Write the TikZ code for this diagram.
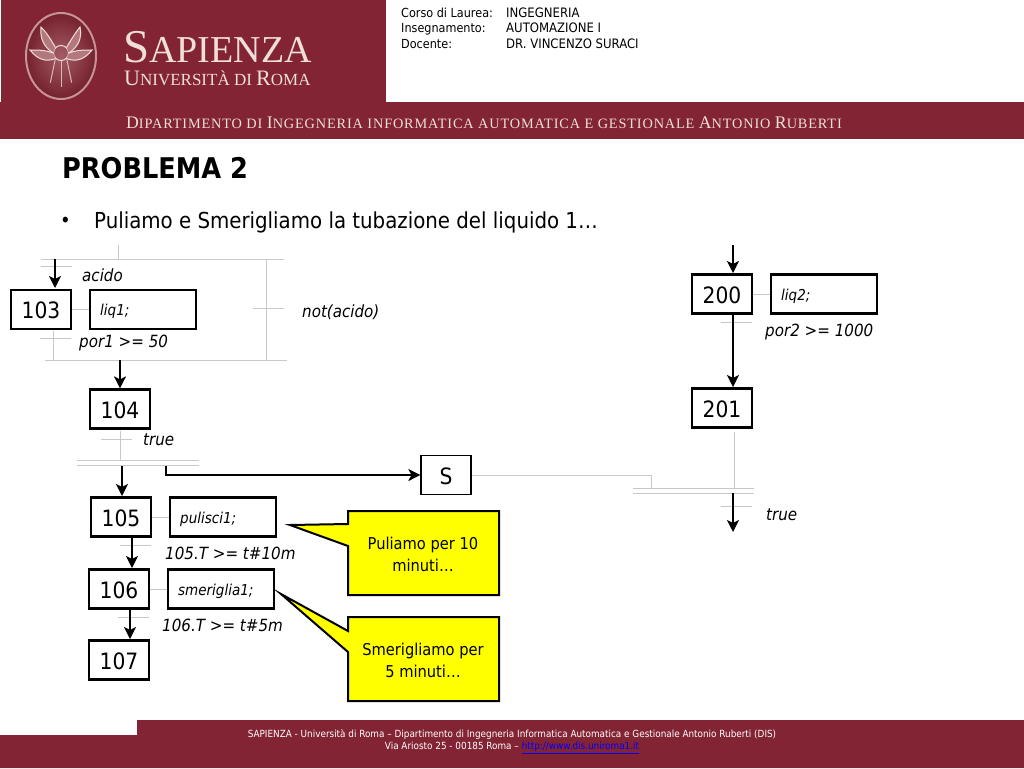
\documentclass[tikz,border=0pt]{standalone}
\usepackage{fontspec}
\setmainfont{DejaVu Sans Condensed}
\newfontfamily\logofont{Liberation Serif}
\usetikzlibrary{positioning,arrows.meta,shapes.geometric}
\definecolor{sapred}{RGB}{130,36,51}
\definecolor{sapcream}{RGB}{240,222,216}
\definecolor{gridgray}{RGB}{200,200,200}
\definecolor{noteyellow}{RGB}{255,255,0}
\newcommand{\LogoCaps}[2]{{\fontsize{#1}{#1}\selectfont #2}}
\tikzset{
	stepbox/.style={draw=black, line width=2.2pt, fill=white, minimum width=60pt, minimum height=39pt, inner sep=0pt, text height=18pt, text depth=0pt, font=\fontsize{22.5}{24}\selectfont},
	actionbox/.style={draw=black, line width=2.2pt, fill=white, minimum width=106pt, minimum height=39pt, text width=86pt, inner xsep=10pt, inner ysep=0pt, text height=14pt, text depth=2pt, align=left, font=\fontsize{15}{17}\selectfont\itshape},
	cond/.style={anchor=west, inner sep=0pt, font=\fontsize{16.8}{19}\selectfont\itshape},
	note/.style={draw=black, line width=2pt, fill=noteyellow, line join=miter},
	notetext/.style={align=center, inner sep=0pt, font=\fontsize{16.3}{22}\selectfont},
	thin line/.style={draw=gridgray, line width=1pt},
	flow/.style={draw=black, line width=1.6pt, -{Stealth[length=12pt,width=12pt,inset=3pt]}},
	info/.style={anchor=base west, inner sep=0pt, font=\fontsize{12.5}{14}\selectfont},
	infoval/.style={anchor=base west, inner sep=0pt, font=\fontsize{13}{14}\selectfont},
}
\begin{document}
\begin{tikzpicture}[x=1pt, y=-1pt]
	\useasboundingbox (0,0) rectangle (1024,768);

	% Header and footer bands
	\fill[sapred] (1,0) rectangle (386,102);
	\fill[sapred] (0,102) rectangle (1024,139);
	\fill[sapred] (137,720) -- (1024,720) -- (1024,768) -- (0,768) -- (0,735) -- (137,735) -- cycle;

	% Seal
	\node[ellipse, draw=sapcream!60!sapred, line width=2pt, inner color=sapred!70!sapcream, outer color=sapred!90!black, minimum width=70pt, minimum height=86pt, inner sep=0pt] (seal) at (61,56) {};
	\node[circle, draw=sapcream, line width=1pt, minimum size=15pt, inner sep=0pt] (sealcore) at (61,53) {};
	\draw[sapcream, line width=1pt, fill=sapcream!45!sapred] (sealcore.north west) .. controls (50,38) and (46,32) .. (41,27) .. controls (40,38) and (43,46) .. (sealcore.west);
	\draw[sapcream, line width=1pt, fill=sapcream!45!sapred] (sealcore.north east) .. controls (72,38) and (76,32) .. (80,27) .. controls (82,38) and (79,46) .. (sealcore.east);
	\draw[sapcream, line width=1pt, fill=sapcream!45!sapred] (sealcore.west) .. controls (46,50) and (38,50) .. (30,50) .. controls (38,60) and (46,62) .. (sealcore.south west);
	\draw[sapcream, line width=1pt, fill=sapcream!45!sapred] (sealcore.east) .. controls (76,50) and (84,50) .. (92,50) .. controls (84,60) and (76,62) .. (sealcore.south east);
	\draw[sapcream!80!sapred, line width=1pt] (sealcore.south) -- ++(0,26);
	\draw[sapcream!80!sapred, line width=1pt] (sealcore.south west) -- ++(-5,24);
	\draw[sapcream!80!sapred, line width=1pt] (sealcore.south east) -- ++(5,24);

	% Logo texts
	\node[anchor=base west, inner sep=0pt, text=sapcream] (sapienza) at (123,63) {\logofont\LogoCaps{47}{S}\LogoCaps{38}{APIENZA}};
	\node[anchor=base west, inner sep=0pt, text=sapcream] (roma) at (124,85) {\logofont\LogoCaps{22}{U}\LogoCaps{17}{NIVERSITÀ DI }\LogoCaps{22}{R}\LogoCaps{17}{OMA}};
	\node[anchor=base west, inner sep=0pt, text=sapcream] (dip) at (126,128) {\logofont\addfontfeature{LetterSpace=6}\LogoCaps{17.7}{D}\LogoCaps{14.3}{IPARTIMENTO DI }\LogoCaps{17.7}{I}\LogoCaps{14.3}{NGEGNERIA INFORMATICA AUTOMATICA E GESTIONALE }\LogoCaps{17.7}{A}\LogoCaps{14.3}{NTONIO }\LogoCaps{17.7}{R}\LogoCaps{14.3}{UBERTI}};

	% Course data
	\node[info] (corso) at (401,17.8) {Corso di Laurea:};
	\node[info] (insegn) at (401,33) {Insegnamento:};
	\node[info] (docente) at (401,48.8) {Docente:};
	\node[infoval] (corsoval) at (506,17.8) {INGEGNERIA};
	\node[infoval] (insegnval) at (506,33) {AUTOMAZIONE I};
	\node[infoval] (docenteval) at (506,48.8) {DR. VINCENZO SURACI};

	% Title
	\node[anchor=west, inner sep=0pt, font=\fontsize{28.5}{32}\selectfont\bfseries] (title) at (62,168) {PROBLEMA 2};
	\node[anchor=west, inner sep=0pt, font=\fontsize{20}{24}\selectfont] (bullet) at (60,222) {•};
	\node[anchor=west, inner sep=0pt, font=\fontsize{22}{26}\selectfont] (subtitle) at (94,222) {Puliamo e Smerigliamo la tubazione del liquido 1…};

	% Steps
	\node[stepbox] (s103) at (41,309.5) {103};
	\node[actionbox, right=17pt of s103] (liq1) {liq1;};
	\node[stepbox] (s104) at (120,409) {104};
	\node[stepbox] (s105) at (121,517) {105};
	\node[actionbox, right=17pt of s105] (pulisci) {pulisci1;};
	\node[stepbox] (s106) at (119,589) {106};
	\node[actionbox, right=17pt of s106] (smeriglia) {smeriglia1;};
	\node[stepbox] (s107) at (119,660) {107};
	\node[stepbox, line width=1.2pt, minimum width=50pt] (S) at (446,475) {S};
	\node[stepbox] (s200) at (722,294) {200};
	\node[actionbox, right=17pt of s200] (liq2) {liq2;};
	\node[stepbox] (s201) at (722,408) {201};

	% Free ends of the thin lines
	\coordinate (topa) at (41,259);
	\coordinate (topb) at (284,259);
	\coordinate (bota) at (45,360);
	\coordinate (botb) at (287,360);
	\coordinate (inlet) at (118,245);
	\coordinate (barone) at (77,460);
	\coordinate (baronee) at (199,460);
	\coordinate (bartwo) at (77,465);
	\coordinate (bartwoe) at (199,465);
	\coordinate (barthree) at (633,488);
	\coordinate (barthreee) at (754,488);
	\coordinate (barfour) at (633,493);
	\coordinate (barfoure) at (754,493);

	% Thin lines
	\draw[thin line] (topa) -- (topb);
	\draw[thin line] (bota) -- (botb);
	\draw[thin line] (inlet) -- (inlet |- topa);
	\draw[thin line] (266,259) -- (266,360);
	\draw[thin line] (253,308) -- (284,308);
	\draw[thin line] (41,266) -- (72,266);
	\draw[thin line] (53,331) -- (53,360);
	\draw[thin line] (40,338) -- (71,338);
	\draw[thin line] (s103) -- (liq1);
	\draw[thin line] (120,431) -- (120,460);
	\draw[thin line] (101,439) -- (132,439);
	\draw[thin line] (barone) -- (baronee);
	\draw[thin line] (bartwo) -- (bartwoe);
	\draw[thin line] (s105) -- (pulisci);
	\draw[thin line] (120,545) -- (151,545);
	\draw[thin line] (s106) -- (smeriglia);
	\draw[thin line] (118,617) -- (149,617);
	\draw[thin line] (S.east) -- (651,475) -- (651,488);
	\draw[thin line] (barthree) -- (barthreee);
	\draw[thin line] (barfour) -- (barfoure);
	\draw[thin line] (s200) -- (liq2);
	\draw[thin line] (721,322) -- (752,322);
	\draw[thin line] (734,432) -- (734,488);
	\draw[thin line] (721,506) -- (752,506);

	% Arrows
	\draw[flow] (55,259) -- (55,288);
	\draw[flow] (120,360) -- (s104.north);
	\draw[flow] (122,466) -- (122,496);
	\draw[flow] (132,537) -- (132,568);
	\draw[flow] (130,610) -- (130,639);
	\draw[flow] (166,466) -- (166,475) -- (S.west);
	\draw[flow] (733,245) -- (733,273);
	\draw[flow] (733,315) -- (733,387);
	\draw[flow] (733,493) -- (733,532);

	% Conditions
	\node[cond] (acido) at (82,275) {acido};
	\node[cond] (notacido) at (302,312.5) {not(acido)};
	\node[cond] (por1) at (79,343.5) {por1 >= 50};
	\node[cond] (true1) at (143,440) {true};
	\node[cond] (t105) at (165,553.5) {105.T >= t\#10m};
	\node[cond] (t106) at (162,625.5) {106.T >= t\#5m};
	\node[cond] (por2) at (765,332) {por2 >= 1000};
	\node[cond] (true2) at (766,514.5) {true};

	% Notes
	\draw[note] (348,511) -- (499,511) -- (499,595) -- (348,595) -- (348,546) -- (290,525) -- (348,524) -- cycle;
	\node[notetext] (note1) at (423,554) {Puliamo per 10\\minuti…};
	\draw[note] (348,617) -- (499,617) -- (499,701) -- (348,701) -- (348,652) -- (281,594) -- (348,631) -- cycle;
	\node[notetext] (note2) at (423,660) {Smerigliamo per\\5 minuti…};

	% Footer
	\node[inner sep=0pt, text=white, align=center, font=\fontsize{9.85}{12.6}\selectfont] (footer) at (512,741.5) {SAPIENZA - Università di Roma – Dipartimento di Ingegneria Informatica Automatica e Gestionale Antonio Ruberti (DIS)\\Via Ariosto 25 - 00185 Roma – \textcolor{blue}{\underline{http://www.dis.uniroma1.it}}};
\end{tikzpicture}
\end{document}
